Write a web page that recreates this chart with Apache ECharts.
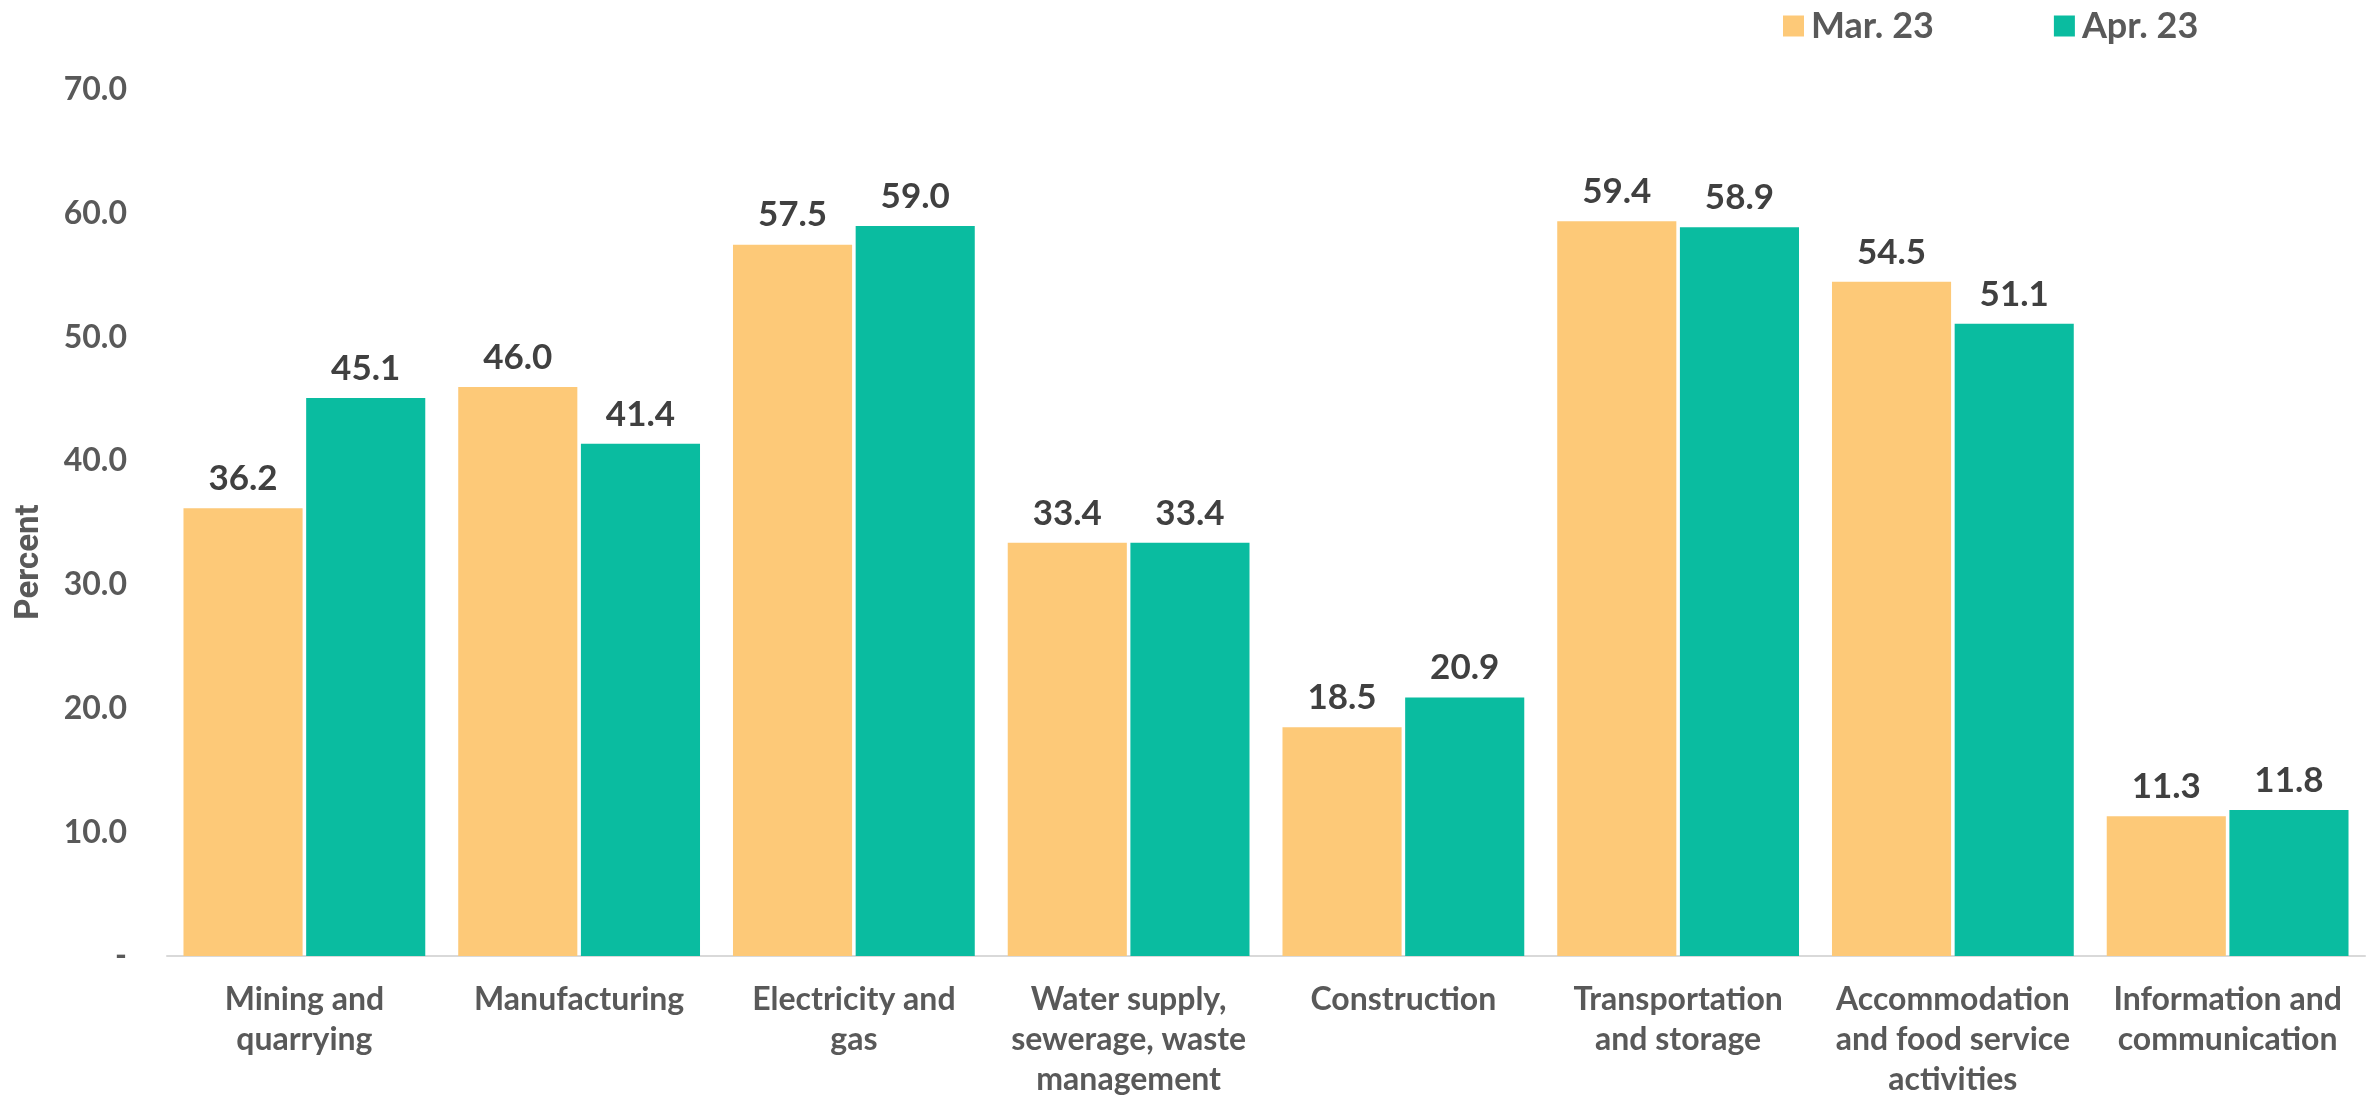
<!DOCTYPE html>
<html>
<head>
<meta charset="utf-8">
<title>Percent by sector, Mar. 23 vs Apr. 23</title>
<script src="https://cdn.jsdelivr.net/npm/echarts@6/dist/echarts.min.js"></script>
<style>
  html, body { margin: 0; padding: 0; background: #ffffff; }
  #chart { width: 2380px; height: 1095px; }
</style>
</head>
<body>
<div id="chart"></div>
<script>
// Sectors on the x axis
const categories = [
  'Mining and\nquarrying',
  'Manufacturing',
  'Electricity and\ngas',
  'Water supply,\nsewerage, waste\nmanagement',
  'Construction',
  'Transportation\nand storage',
  'Accommodation\nand food service\nactivities',
  'Information and\ncommunication'
];

// Series values (percent)
const seriesNames = ['Mar. 23', 'Apr. 23'];
const mar23 = [36.2, 46.0, 57.5, 33.4, 18.5, 59.4, 54.5, 11.3];
const apr23 = [45.1, 41.4, 59.0, 33.4, 20.9, 58.9, 51.1, 11.8];

// Value axis ticks
const yTicks = [0, 10, 20, 30, 40, 50, 60, 70];

const FONT = 'Lato';
const colors = ['#FDC978', '#0ABCA0'];

const chart = echarts.init(document.getElementById('chart'), null, { renderer: 'canvas' });

const valueLabel = {
  show: true,
  position: 'top',
  distance: 12,
  fontFamily: FONT,
  fontWeight: 'bold',
  fontSize: 35,
  color: '#404040',
  formatter: p => p.value.toFixed(1)
};

chart.setOption({
  animation: false,
  backgroundColor: '#ffffff',
  color: colors,
  legend: {
    data: seriesNames,
    left: 1778,
    top: 3,
    itemWidth: 21,
    itemHeight: 21,
    itemGap: 120,
    icon: 'rect',
    textStyle: { fontFamily: FONT, fontWeight: 'bold', fontSize: 36, color: '#595959', padding: [0, 0, 0, 2] }
  },
  grid: { left: 167, right: 15, top: 90, bottom: 139, containLabel: false, outerBoundsMode: 'none' },
  xAxis: {
    type: 'category',
    data: categories,
    axisLine: { show: true, lineStyle: { color: '#D9D9D9', width: 2 } },
    axisTick: { show: false },
    axisLabel: {
      interval: 0,
      margin: 24,
      fontFamily: FONT,
      fontWeight: 'bold',
      fontSize: 32,
      lineHeight: 40,
      color: '#595959',
      align: 'center'
    }
  },
  yAxis: {
    type: 'value',
    min: yTicks[0],
    max: yTicks[yTicks.length - 1],
    interval: 10,
    splitLine: { show: false },
    axisLine: { show: false },
    axisTick: { show: false },
    axisLabel: {
      margin: 40,
      fontFamily: FONT,
      fontWeight: 'bold',
      fontSize: 32,
      color: '#595959',
      formatter: v => (v === 0 ? '-' : v.toFixed(1))
    }
  },
  graphic: [{
    type: 'text',
    x: 30,
    y: 562,
    rotation: Math.PI / 2,
    style: {
      text: 'Percent',
      fontFamily: 'Roboto',
      fontWeight: 'bold',
      fontSize: 33,
      fill: '#595959',
      align: 'center',
      verticalAlign: 'middle'
    }
  }],
  series: [
    {
      name: seriesNames[0],
      type: 'bar',
      data: mar23,
      barGap: '3%',
      barCategoryGap: '12%',
      label: valueLabel,
      itemStyle: { color: colors[0] }
    },
    {
      name: seriesNames[1],
      type: 'bar',
      data: apr23,
      barGap: '3%',
      barCategoryGap: '12%',
      label: valueLabel,
      itemStyle: { color: colors[1] }
    }
  ]
});
</script>
</body>
</html>
